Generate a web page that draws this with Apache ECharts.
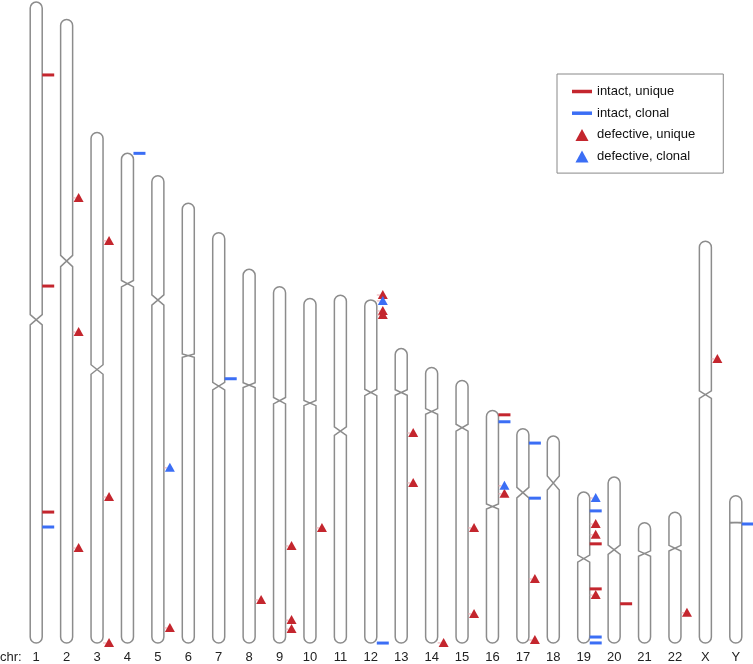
<!DOCTYPE html>
<html><head><meta charset="utf-8">
<script src="https://cdn.jsdelivr.net/npm/echarts@6/dist/echarts.min.js"></script>
<style>html,body{margin:0;padding:0;background:#fff}#c{width:753px;height:664px}</style>
</head><body><div id="c"></div>
<script>
// chromosome names (x categories)
const chromosomes = ['1','2','3','4','5','6','7','8','9','10','11','12','13','14','15','16','17','18','19','20','21','22','X','Y'];
// chromosome lengths (Mb)
const chromLength = [248.96,242.19,198.30,190.21,181.54,170.81,159.35,145.14,138.39,133.80,135.09,133.28,114.36,107.04,101.99,90.34,83.26,80.37,58.62,64.44,46.71,50.82,156.04,57.23];
// centromere start / end (Mb from p-terminus)
const cenStart = [121.4,91.6,90.2,49.4,46.3,58.5,58.1,44.0,43.0,39.6,51.1,34.7,16.0,16.0,17.0,36.3,22.8,15.5,24.5,26.4,10.9,12.9,58.1,10.3];
const cenEnd   = [125.4,96.0,93.9,51.9,50.3,59.8,61.0,45.9,45.5,41.6,54.4,37.2,18.1,18.2,19.7,38.3,26.9,20.9,27.2,30.0,13.0,15.1,61.0,10.6];

// integration sites: [chromosome, position Mb from p-terminus]
const intactUnique = [['1',28.3],['1',110.3],['1',198.1],['16',1.7],['19',20.1],['19',37.6],['20',49.2]];
const intactClonal = [['1',203.9],['4',0.0],['7',56.7],['12',133.3],['16',4.4],['17',5.6],['17',27.0],['19',7.3],['19',56.3],['19',58.6],['Y',11.0]];
const defectiveUnique = [['2',69.3],['2',121.4],['2',205.3],['3',42.1],['3',141.6],['3',198.3],['5',175.7],['8',128.4],['9',100.7],['9',129.5],['9',133.0],['10',89.1],['12',-1.9],['12',4.3],['12',5.9],['13',32.8],['13',52.2],['14',107.0],['15',57.3],['15',90.7],['16',32.4],['17',58.4],['17',82.1],['19',12.4],['19',16.6],['19',40.0],['22',39.1],['X',45.7]];
const defectiveClonal = [['5',113.5],['12',0.4],['16',29.3],['19',2.3]];

const RED = '#c4262e', BLUE = '#3b6ef5';

function toData(arr){
  return arr.map(([c,p]) => { const i = chromosomes.indexOf(c); return [i, chromLength[i] - p]; });
}

function renderChrom(params, api){
  const i = api.value(0), len = api.value(1), cs = api.value(2), ce = api.value(3);
  const top = api.coord([i, len]), bot = api.coord([i, 0]);
  const a = api.coord([i, len - cs]), b = api.coord([i, len - ce]);
  const x = top[0], hw = 6, r = 6, L = x - hw, R = x + hw;
  const yt = top[1], yb = bot[1], ya = a[1], yc = b[1];
  const d = `M${L},${yt+r} L${L},${ya} L${R},${yc} L${R},${yb-r} A${r},${r} 0 0 1 ${L},${yb-r} L${L},${yc} L${R},${ya} L${R},${yt+r} A${r},${r} 0 0 0 ${L},${yt+r} Z`;
  return {type:'path', shape:{pathData:d}, style:{fill:'none', stroke:'#8c8c8c', lineWidth:1.5}};
}
function renderDash(params, api){
  const p = api.coord([api.value(0), api.value(1)]);
  return {type:'rect', shape:{x:p[0]+6, y:p[1]-1.5, width:12, height:3}, style:{fill: api.visual('color')}};
}
function renderTri(params, api){
  const p = api.coord([api.value(0), api.value(1)]);
  const cx = p[0] + 12, cy = p[1];
  return {type:'group', children:[
    {type:'line', shape:{x1:p[0]+6, y1:cy, x2:cx-3, y2:cy}, style:{stroke:'#eba7ad', lineWidth:1}},
    {type:'polygon', shape:{points:[[cx,cy-5],[cx+5,cy+4],[cx-5,cy+4]]}, style:{fill: api.visual('color')}}
  ]};
}

const chart = echarts.init(document.getElementById('c'), null, {renderer:'canvas'});
chart.setOption({
  animation:false,
  backgroundColor:'#fff',
  grid:{left:21, right:2, top:2, bottom:20},
  xAxis:{type:'category', data:chromosomes, boundaryGap:true,
    axisLine:{show:false}, axisTick:{show:false}, splitLine:{show:false},
    axisLabel:{margin:8, fontSize:13, color:'#222', fontFamily:'Liberation Sans, Arial, sans-serif', interval:0}},
  yAxis:{type:'value', min:0, max:249, show:false},
  legend:{
    orient:'vertical', left:557, top:74,
    backgroundColor:'#fff', borderColor:'#888', borderWidth:1, borderRadius:0,
    padding:[11,28,10,15], itemGap:8.7, itemWidth:20, itemHeight:12,
    textStyle:{fontSize:13, color:'#111', fontFamily:'Liberation Sans, Arial, sans-serif'},
    data:[
      {name:'intact, unique', icon:'path://M0,0h20v3.5h-20z', itemStyle:{color:RED}},
      {name:'intact, clonal', icon:'path://M0,0h20v3.5h-20z', itemStyle:{color:BLUE}},
      {name:'defective, unique', icon:'path://M6,0L12,11L0,11Z', itemStyle:{color:RED}},
      {name:'defective, clonal', icon:'path://M6,0L12,11L0,11Z', itemStyle:{color:BLUE}}
    ]
  },
  graphic:[{type:'text', left:0, top:651, style:{text:'chr:', fontSize:13, fill:'#222', fontFamily:'Liberation Sans, Arial, sans-serif'}}],
  series:[
    {type:'custom', name:'chromosomes', renderItem:renderChrom, silent:true, z:1,
      data:chromosomes.map((c,i)=>[i, chromLength[i], cenStart[i], cenEnd[i]]), encode:{x:0, y:1}},
    {type:'custom', name:'intact, unique', renderItem:renderDash, z:3, itemStyle:{color:RED}, data:toData(intactUnique), encode:{x:0,y:1}},
    {type:'custom', name:'intact, clonal', renderItem:renderDash, z:3, itemStyle:{color:BLUE}, data:toData(intactClonal), encode:{x:0,y:1}},
    {type:'custom', name:'defective, unique', renderItem:renderTri, z:4, itemStyle:{color:RED}, data:toData(defectiveUnique), encode:{x:0,y:1}},
    {type:'custom', name:'defective, clonal', renderItem:renderTri, z:5, itemStyle:{color:BLUE}, data:toData(defectiveClonal), encode:{x:0,y:1}}
  ]
});
</script></body></html>
